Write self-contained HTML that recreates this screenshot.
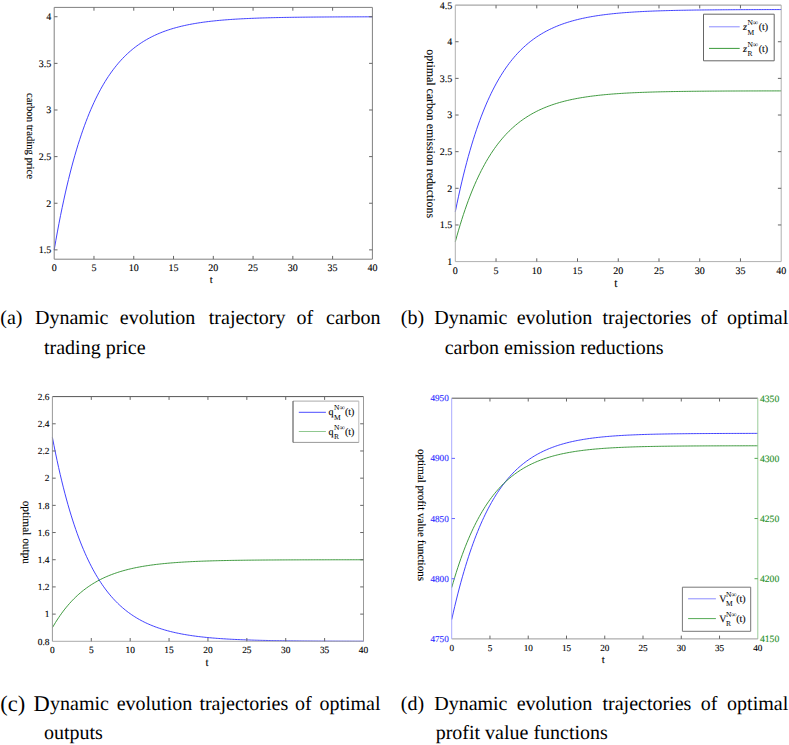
<!DOCTYPE html>
<html><head><meta charset="utf-8"><style>
html,body{margin:0;padding:0;background:#fff;}
svg{display:block;}
text{font-family:"Liberation Serif",serif;text-rendering:geometricPrecision;}
</style></head><body>
<svg width="789" height="745" viewBox="0 0 789 745">
<polyline points="54.20,249.87 55.79,240.73 57.38,231.95 58.97,223.51 60.56,215.40 62.16,207.61 63.75,200.13 65.34,192.94 66.93,186.03 68.52,179.39 70.11,173.01 71.70,166.88 73.29,160.99 74.88,155.34 76.47,149.90 78.06,144.68 79.66,139.66 81.25,134.84 82.84,130.21 84.43,125.76 86.02,121.49 87.61,117.38 89.20,113.43 90.79,109.64 92.38,106.00 93.97,102.50 95.57,99.13 97.16,95.90 98.75,92.80 100.34,89.81 101.93,86.95 103.52,84.20 105.11,81.55 106.70,79.01 108.29,76.57 109.89,74.22 111.48,71.97 113.07,69.80 114.66,67.72 116.25,65.72 117.84,63.80 119.43,61.95 121.02,60.18 122.61,58.47 124.20,56.84 125.80,55.27 127.39,53.75 128.98,52.30 130.57,50.91 132.16,49.57 133.75,48.28 135.34,47.04 136.93,45.85 138.52,44.71 140.11,43.61 141.70,42.56 143.30,41.55 144.89,40.57 146.48,39.64 148.07,38.74 149.66,37.88 151.25,37.05 152.84,36.25 154.43,35.48 156.02,34.75 157.62,34.04 159.21,33.36 160.80,32.71 162.39,32.08 163.98,31.48 165.57,30.90 167.16,30.35 168.75,29.81 170.34,29.30 171.93,28.81 173.53,28.33 175.12,27.88 176.71,27.44 178.30,27.02 179.89,26.62 181.48,26.23 183.07,25.86 184.66,25.50 186.25,25.15 187.84,24.82 189.44,24.51 191.03,24.20 192.62,23.91 194.21,23.63 195.80,23.36 197.39,23.10 198.98,22.85 200.57,22.61 202.16,22.38 203.75,22.15 205.35,21.94 206.94,21.74 208.53,21.54 210.12,21.35 211.71,21.17 213.30,21.00 214.89,20.83 216.48,20.67 218.07,20.51 219.66,20.36 221.25,20.22 222.85,20.09 224.44,19.95 226.03,19.83 227.62,19.71 229.21,19.59 230.80,19.48 232.39,19.37 233.98,19.26 235.57,19.17 237.16,19.07 238.76,18.98 240.35,18.89 241.94,18.80 243.53,18.72 245.12,18.64 246.71,18.57 248.30,18.50 249.89,18.43 251.48,18.36 253.07,18.30 254.67,18.24 256.26,18.18 257.85,18.12 259.44,18.06 261.03,18.01 262.62,17.96 264.21,17.91 265.80,17.87 267.39,17.82 268.99,17.78 270.58,17.74 272.17,17.70 273.76,17.66 275.35,17.62 276.94,17.59 278.53,17.55 280.12,17.52 281.71,17.49 283.30,17.46 284.89,17.43 286.49,17.40 288.08,17.38 289.67,17.35 291.26,17.33 292.85,17.30 294.44,17.28 296.03,17.26 297.62,17.24 299.21,17.22 300.80,17.20 302.40,17.18 303.99,17.16 305.58,17.15 307.17,17.13 308.76,17.11 310.35,17.10 311.94,17.08 313.53,17.07 315.12,17.06 316.71,17.04 318.31,17.03 319.90,17.02 321.49,17.01 323.08,17.00 324.67,16.99 326.26,16.98 327.85,16.97 329.44,16.96 331.03,16.95 332.62,16.94 334.22,16.93 335.81,16.92 337.40,16.91 338.99,16.91 340.58,16.90 342.17,16.89 343.76,16.89 345.35,16.88 346.94,16.87 348.53,16.87 350.13,16.86 351.72,16.86 353.31,16.85 354.90,16.85 356.49,16.84 358.08,16.84 359.67,16.83 361.26,16.83 362.85,16.83 364.44,16.82 366.04,16.82 367.63,16.81 369.22,16.81 370.81,16.81 372.40,16.80" fill="none" stroke="#2d2dff" stroke-width="0.9" stroke-linejoin="round"/>
<line x1="54.20" y1="7.40" x2="372.40" y2="7.40" stroke="#808080" stroke-width="1"/>
<line x1="372.40" y1="7.40" x2="372.40" y2="259.20" stroke="#808080" stroke-width="1"/>
<line x1="54.20" y1="259.20" x2="372.40" y2="259.20" stroke="#808080" stroke-width="1"/>
<line x1="54.20" y1="7.40" x2="54.20" y2="259.20" stroke="#808080" stroke-width="1"/>
<text x="54.20" y="271.00" font-size="10" text-anchor="middle" fill="#000" stroke="#000" stroke-width="0.12" >0</text>
<line x1="93.97" y1="259.20" x2="93.97" y2="255.90" stroke="#666" stroke-width="1"/>
<line x1="93.97" y1="7.40" x2="93.97" y2="10.70" stroke="#666" stroke-width="1"/>
<text x="93.97" y="271.00" font-size="10" text-anchor="middle" fill="#000" stroke="#000" stroke-width="0.12" >5</text>
<line x1="133.75" y1="259.20" x2="133.75" y2="255.90" stroke="#666" stroke-width="1"/>
<line x1="133.75" y1="7.40" x2="133.75" y2="10.70" stroke="#666" stroke-width="1"/>
<text x="133.75" y="271.00" font-size="10" text-anchor="middle" fill="#000" stroke="#000" stroke-width="0.12" >10</text>
<line x1="173.53" y1="259.20" x2="173.53" y2="255.90" stroke="#666" stroke-width="1"/>
<line x1="173.53" y1="7.40" x2="173.53" y2="10.70" stroke="#666" stroke-width="1"/>
<text x="173.53" y="271.00" font-size="10" text-anchor="middle" fill="#000" stroke="#000" stroke-width="0.12" >15</text>
<line x1="213.30" y1="259.20" x2="213.30" y2="255.90" stroke="#666" stroke-width="1"/>
<line x1="213.30" y1="7.40" x2="213.30" y2="10.70" stroke="#666" stroke-width="1"/>
<text x="213.30" y="271.00" font-size="10" text-anchor="middle" fill="#000" stroke="#000" stroke-width="0.12" >20</text>
<line x1="253.07" y1="259.20" x2="253.07" y2="255.90" stroke="#666" stroke-width="1"/>
<line x1="253.07" y1="7.40" x2="253.07" y2="10.70" stroke="#666" stroke-width="1"/>
<text x="253.07" y="271.00" font-size="10" text-anchor="middle" fill="#000" stroke="#000" stroke-width="0.12" >25</text>
<line x1="292.85" y1="259.20" x2="292.85" y2="255.90" stroke="#666" stroke-width="1"/>
<line x1="292.85" y1="7.40" x2="292.85" y2="10.70" stroke="#666" stroke-width="1"/>
<text x="292.85" y="271.00" font-size="10" text-anchor="middle" fill="#000" stroke="#000" stroke-width="0.12" >30</text>
<line x1="332.62" y1="259.20" x2="332.62" y2="255.90" stroke="#666" stroke-width="1"/>
<line x1="332.62" y1="7.40" x2="332.62" y2="10.70" stroke="#666" stroke-width="1"/>
<text x="332.62" y="271.00" font-size="10" text-anchor="middle" fill="#000" stroke="#000" stroke-width="0.12" >35</text>
<text x="372.40" y="271.00" font-size="10" text-anchor="middle" fill="#000" stroke="#000" stroke-width="0.12" >40</text>
<line x1="54.20" y1="249.87" x2="57.50" y2="249.87" stroke="#666" stroke-width="1"/>
<line x1="372.40" y1="249.87" x2="369.10" y2="249.87" stroke="#666" stroke-width="1"/>
<text x="51.30" y="253.27" font-size="10" text-anchor="end" fill="#000" stroke="#000" stroke-width="0.12" >1.5</text>
<line x1="54.20" y1="203.24" x2="57.50" y2="203.24" stroke="#666" stroke-width="1"/>
<line x1="372.40" y1="203.24" x2="369.10" y2="203.24" stroke="#666" stroke-width="1"/>
<text x="51.30" y="206.64" font-size="10" text-anchor="end" fill="#000" stroke="#000" stroke-width="0.12" >2</text>
<line x1="54.20" y1="156.61" x2="57.50" y2="156.61" stroke="#666" stroke-width="1"/>
<line x1="372.40" y1="156.61" x2="369.10" y2="156.61" stroke="#666" stroke-width="1"/>
<text x="51.30" y="160.01" font-size="10" text-anchor="end" fill="#000" stroke="#000" stroke-width="0.12" >2.5</text>
<line x1="54.20" y1="109.99" x2="57.50" y2="109.99" stroke="#666" stroke-width="1"/>
<line x1="372.40" y1="109.99" x2="369.10" y2="109.99" stroke="#666" stroke-width="1"/>
<text x="51.30" y="113.39" font-size="10" text-anchor="end" fill="#000" stroke="#000" stroke-width="0.12" >3</text>
<line x1="54.20" y1="63.36" x2="57.50" y2="63.36" stroke="#666" stroke-width="1"/>
<line x1="372.40" y1="63.36" x2="369.10" y2="63.36" stroke="#666" stroke-width="1"/>
<text x="51.30" y="66.76" font-size="10" text-anchor="end" fill="#000" stroke="#000" stroke-width="0.12" >3.5</text>
<line x1="54.20" y1="16.73" x2="57.50" y2="16.73" stroke="#666" stroke-width="1"/>
<line x1="372.40" y1="16.73" x2="369.10" y2="16.73" stroke="#666" stroke-width="1"/>
<text x="51.30" y="20.13" font-size="10" text-anchor="end" fill="#000" stroke="#000" stroke-width="0.12" >4</text>
<text x="211.20" y="282.60" font-size="10.7" text-anchor="middle" fill="#000" stroke="#000" stroke-width="0.12" >t</text>
<text transform="translate(27.20,92.90) rotate(90)" x="0" y="0" font-size="10.7" fill="#000" stroke="#000" stroke-width="0.12">carbon trading price</text>
<polyline points="455.30,211.77 456.93,203.83 458.56,196.21 460.19,188.89 461.82,181.86 463.45,175.10 465.08,168.61 466.71,162.37 468.34,156.37 469.97,150.62 471.60,145.08 473.22,139.77 474.85,134.66 476.48,129.75 478.11,125.03 479.74,120.50 481.37,116.15 483.00,111.97 484.63,107.95 486.26,104.09 487.89,100.38 489.52,96.82 491.15,93.39 492.78,90.11 494.41,86.94 496.04,83.91 497.67,80.99 499.30,78.19 500.93,75.49 502.56,72.91 504.19,70.42 505.81,68.03 507.44,65.74 509.07,63.53 510.70,61.41 512.33,59.38 513.96,57.42 515.59,55.54 517.22,53.74 518.85,52.00 520.48,50.33 522.11,48.73 523.74,47.19 525.37,45.72 527.00,44.30 528.63,42.93 530.26,41.62 531.89,40.36 533.52,39.15 535.15,37.99 536.77,36.87 538.40,35.80 540.03,34.77 541.66,33.78 543.29,32.82 544.92,31.91 546.55,31.03 548.18,30.19 549.81,29.37 551.44,28.60 553.07,27.85 554.70,27.13 556.33,26.44 557.96,25.77 559.59,25.13 561.22,24.52 562.85,23.93 564.48,23.37 566.11,22.82 567.74,22.30 569.37,21.80 570.99,21.31 572.62,20.85 574.25,20.41 575.88,19.98 577.51,19.57 579.14,19.17 580.77,18.79 582.40,18.43 584.03,18.08 585.66,17.74 587.29,17.42 588.92,17.11 590.55,16.81 592.18,16.52 593.81,16.25 595.44,15.98 597.07,15.73 598.70,15.48 600.33,15.25 601.96,15.02 603.58,14.81 605.21,14.60 606.84,14.40 608.47,14.21 610.10,14.02 611.73,13.84 613.36,13.67 614.99,13.51 616.62,13.35 618.25,13.20 619.88,13.06 621.51,12.92 623.14,12.78 624.77,12.65 626.40,12.53 628.03,12.41 629.66,12.30 631.29,12.19 632.92,12.08 634.55,11.98 636.17,11.88 637.80,11.79 639.43,11.70 641.06,11.61 642.69,11.53 644.32,11.45 645.95,11.37 647.58,11.30 649.21,11.23 650.84,11.16 652.47,11.10 654.10,11.03 655.73,10.97 657.36,10.92 658.99,10.86 660.62,10.81 662.25,10.76 663.88,10.71 665.51,10.66 667.13,10.61 668.76,10.57 670.39,10.53 672.02,10.49 673.65,10.45 675.28,10.41 676.91,10.37 678.54,10.34 680.17,10.31 681.80,10.28 683.43,10.25 685.06,10.22 686.69,10.19 688.32,10.16 689.95,10.13 691.58,10.11 693.21,10.09 694.84,10.06 696.47,10.04 698.10,10.02 699.73,10.00 701.35,9.98 702.98,9.96 704.61,9.94 706.24,9.92 707.87,9.91 709.50,9.89 711.13,9.88 712.76,9.86 714.39,9.85 716.02,9.83 717.65,9.82 719.28,9.81 720.91,9.80 722.54,9.78 724.17,9.77 725.80,9.76 727.43,9.75 729.06,9.74 730.69,9.73 732.32,9.72 733.94,9.71 735.57,9.71 737.20,9.70 738.83,9.69 740.46,9.68 742.09,9.67 743.72,9.67 745.35,9.66 746.98,9.65 748.61,9.65 750.24,9.64 751.87,9.64 753.50,9.63 755.13,9.63 756.76,9.62 758.39,9.62 760.02,9.61 761.65,9.61 763.28,9.60 764.90,9.60 766.53,9.59 768.16,9.59 769.79,9.59 771.42,9.58 773.05,9.58 774.68,9.58 776.31,9.57 777.94,9.57 779.57,9.57 781.20,9.56" fill="none" stroke="#2d2dff" stroke-width="0.9" stroke-linejoin="round"/>
<polyline points="455.30,241.81 456.93,235.89 458.56,230.21 460.19,224.74 461.82,219.49 463.45,214.45 465.08,209.60 466.71,204.94 468.34,200.47 469.97,196.17 471.60,192.04 473.22,188.07 474.85,184.26 476.48,180.60 478.11,177.08 479.74,173.70 481.37,170.45 483.00,167.33 484.63,164.33 486.26,161.45 487.89,158.68 489.52,156.02 491.15,153.46 492.78,151.01 494.41,148.65 496.04,146.38 497.67,144.20 499.30,142.11 500.93,140.10 502.56,138.17 504.19,136.32 505.81,134.53 507.44,132.82 509.07,131.17 510.70,129.59 512.33,128.07 513.96,126.61 515.59,125.21 517.22,123.86 518.85,122.57 520.48,121.32 522.11,120.13 523.74,118.98 525.37,117.88 527.00,116.82 528.63,115.80 530.26,114.82 531.89,113.88 533.52,112.98 535.15,112.11 536.77,111.28 538.40,110.47 540.03,109.70 541.66,108.97 543.29,108.25 544.92,107.57 546.55,106.92 548.18,106.29 549.81,105.68 551.44,105.10 553.07,104.54 554.70,104.00 556.33,103.49 557.96,102.99 559.59,102.51 561.22,102.06 562.85,101.62 564.48,101.20 566.11,100.79 567.74,100.40 569.37,100.02 570.99,99.66 572.62,99.32 574.25,98.99 575.88,98.67 577.51,98.36 579.14,98.07 580.77,97.78 582.40,97.51 584.03,97.25 585.66,97.00 587.29,96.76 588.92,96.52 590.55,96.30 592.18,96.09 593.81,95.88 595.44,95.69 597.07,95.50 598.70,95.31 600.33,95.14 601.96,94.97 603.58,94.81 605.21,94.65 606.84,94.50 608.47,94.36 610.10,94.22 611.73,94.09 613.36,93.96 614.99,93.84 616.62,93.72 618.25,93.61 619.88,93.50 621.51,93.40 623.14,93.30 624.77,93.20 626.40,93.11 628.03,93.02 629.66,92.93 631.29,92.85 632.92,92.77 634.55,92.70 636.17,92.63 637.80,92.56 639.43,92.49 641.06,92.42 642.69,92.36 644.32,92.30 645.95,92.25 647.58,92.19 649.21,92.14 650.84,92.09 652.47,92.04 654.10,91.99 655.73,91.95 657.36,91.90 658.99,91.86 660.62,91.82 662.25,91.78 663.88,91.75 665.51,91.71 667.13,91.68 668.76,91.64 670.39,91.61 672.02,91.58 673.65,91.55 675.28,91.53 676.91,91.50 678.54,91.47 680.17,91.45 681.80,91.43 683.43,91.40 685.06,91.38 686.69,91.36 688.32,91.34 689.95,91.32 691.58,91.30 693.21,91.28 694.84,91.27 696.47,91.25 698.10,91.23 699.73,91.22 701.35,91.20 702.98,91.19 704.61,91.18 706.24,91.16 707.87,91.15 709.50,91.14 711.13,91.13 712.76,91.12 714.39,91.11 716.02,91.10 717.65,91.09 719.28,91.08 720.91,91.07 722.54,91.06 724.17,91.05 725.80,91.04 727.43,91.03 729.06,91.03 730.69,91.02 732.32,91.01 733.94,91.01 735.57,91.00 737.20,90.99 738.83,90.99 740.46,90.98 742.09,90.98 743.72,90.97 745.35,90.97 746.98,90.96 748.61,90.96 750.24,90.95 751.87,90.95 753.50,90.94 755.13,90.94 756.76,90.94 758.39,90.93 760.02,90.93 761.65,90.93 763.28,90.92 764.90,90.92 766.53,90.92 768.16,90.91 769.79,90.91 771.42,90.91 773.05,90.91 774.68,90.90 776.31,90.90 777.94,90.90 779.57,90.90 781.20,90.89" fill="none" stroke="#2a8f2a" stroke-width="0.9" stroke-linejoin="round"/>
<line x1="455.30" y1="5.10" x2="781.20" y2="5.10" stroke="#909090" stroke-width="1"/>
<line x1="781.20" y1="5.10" x2="781.20" y2="261.60" stroke="#b0b0b0" stroke-width="1"/>
<line x1="455.30" y1="261.60" x2="781.20" y2="261.60" stroke="#b0b0b0" stroke-width="1"/>
<line x1="455.30" y1="5.10" x2="455.30" y2="261.60" stroke="#b0b0b0" stroke-width="1"/>
<text x="455.30" y="273.50" font-size="10" text-anchor="middle" fill="#000" stroke="#000" stroke-width="0.12" >0</text>
<line x1="496.04" y1="261.60" x2="496.04" y2="258.30" stroke="#666" stroke-width="1"/>
<line x1="496.04" y1="5.10" x2="496.04" y2="8.40" stroke="#666" stroke-width="1"/>
<text x="496.04" y="273.50" font-size="10" text-anchor="middle" fill="#000" stroke="#000" stroke-width="0.12" >5</text>
<line x1="536.77" y1="261.60" x2="536.77" y2="258.30" stroke="#666" stroke-width="1"/>
<line x1="536.77" y1="5.10" x2="536.77" y2="8.40" stroke="#666" stroke-width="1"/>
<text x="536.77" y="273.50" font-size="10" text-anchor="middle" fill="#000" stroke="#000" stroke-width="0.12" >10</text>
<line x1="577.51" y1="261.60" x2="577.51" y2="258.30" stroke="#666" stroke-width="1"/>
<line x1="577.51" y1="5.10" x2="577.51" y2="8.40" stroke="#666" stroke-width="1"/>
<text x="577.51" y="273.50" font-size="10" text-anchor="middle" fill="#000" stroke="#000" stroke-width="0.12" >15</text>
<line x1="618.25" y1="261.60" x2="618.25" y2="258.30" stroke="#666" stroke-width="1"/>
<line x1="618.25" y1="5.10" x2="618.25" y2="8.40" stroke="#666" stroke-width="1"/>
<text x="618.25" y="273.50" font-size="10" text-anchor="middle" fill="#000" stroke="#000" stroke-width="0.12" >20</text>
<line x1="658.99" y1="261.60" x2="658.99" y2="258.30" stroke="#666" stroke-width="1"/>
<line x1="658.99" y1="5.10" x2="658.99" y2="8.40" stroke="#666" stroke-width="1"/>
<text x="658.99" y="273.50" font-size="10" text-anchor="middle" fill="#000" stroke="#000" stroke-width="0.12" >25</text>
<line x1="699.73" y1="261.60" x2="699.73" y2="258.30" stroke="#666" stroke-width="1"/>
<line x1="699.73" y1="5.10" x2="699.73" y2="8.40" stroke="#666" stroke-width="1"/>
<text x="699.73" y="273.50" font-size="10" text-anchor="middle" fill="#000" stroke="#000" stroke-width="0.12" >30</text>
<line x1="740.46" y1="261.60" x2="740.46" y2="258.30" stroke="#666" stroke-width="1"/>
<line x1="740.46" y1="5.10" x2="740.46" y2="8.40" stroke="#666" stroke-width="1"/>
<text x="740.46" y="273.50" font-size="10" text-anchor="middle" fill="#000" stroke="#000" stroke-width="0.12" >35</text>
<text x="781.20" y="273.50" font-size="10" text-anchor="middle" fill="#000" stroke="#000" stroke-width="0.12" >40</text>
<text x="452.20" y="265.00" font-size="10" text-anchor="end" fill="#000" stroke="#000" stroke-width="0.12" >1</text>
<line x1="455.30" y1="224.96" x2="458.60" y2="224.96" stroke="#666" stroke-width="1"/>
<line x1="781.20" y1="224.96" x2="777.90" y2="224.96" stroke="#666" stroke-width="1"/>
<text x="452.20" y="228.36" font-size="10" text-anchor="end" fill="#000" stroke="#000" stroke-width="0.12" >1.5</text>
<line x1="455.30" y1="188.31" x2="458.60" y2="188.31" stroke="#666" stroke-width="1"/>
<line x1="781.20" y1="188.31" x2="777.90" y2="188.31" stroke="#666" stroke-width="1"/>
<text x="452.20" y="191.71" font-size="10" text-anchor="end" fill="#000" stroke="#000" stroke-width="0.12" >2</text>
<line x1="455.30" y1="151.67" x2="458.60" y2="151.67" stroke="#666" stroke-width="1"/>
<line x1="781.20" y1="151.67" x2="777.90" y2="151.67" stroke="#666" stroke-width="1"/>
<text x="452.20" y="155.07" font-size="10" text-anchor="end" fill="#000" stroke="#000" stroke-width="0.12" >2.5</text>
<line x1="455.30" y1="115.03" x2="458.60" y2="115.03" stroke="#666" stroke-width="1"/>
<line x1="781.20" y1="115.03" x2="777.90" y2="115.03" stroke="#666" stroke-width="1"/>
<text x="452.20" y="118.43" font-size="10" text-anchor="end" fill="#000" stroke="#000" stroke-width="0.12" >3</text>
<line x1="455.30" y1="78.39" x2="458.60" y2="78.39" stroke="#666" stroke-width="1"/>
<line x1="781.20" y1="78.39" x2="777.90" y2="78.39" stroke="#666" stroke-width="1"/>
<text x="452.20" y="81.79" font-size="10" text-anchor="end" fill="#000" stroke="#000" stroke-width="0.12" >3.5</text>
<line x1="455.30" y1="41.74" x2="458.60" y2="41.74" stroke="#666" stroke-width="1"/>
<line x1="781.20" y1="41.74" x2="777.90" y2="41.74" stroke="#666" stroke-width="1"/>
<text x="452.20" y="45.14" font-size="10" text-anchor="end" fill="#000" stroke="#000" stroke-width="0.12" >4</text>
<text x="452.20" y="8.50" font-size="10" text-anchor="end" fill="#000" stroke="#000" stroke-width="0.12" >4.5</text>
<text x="615.80" y="287.20" font-size="11.8" text-anchor="middle" fill="#000" stroke="#000" stroke-width="0.12" >t</text>
<text transform="translate(426.70,49.30) rotate(90)" x="0" y="0" font-size="11.85" fill="#000" stroke="#000" stroke-width="0.12">optimal carbon emission reductions</text>
<rect x="703.50" y="14.20" width="70.70" height="46.60" fill="#fff"/>
<line x1="703.50" y1="14.20" x2="774.20" y2="14.20" stroke="#666" stroke-width="1.0"/>
<line x1="774.20" y1="14.20" x2="774.20" y2="60.80" stroke="#666" stroke-width="1.0"/>
<line x1="703.50" y1="60.80" x2="774.20" y2="60.80" stroke="#666" stroke-width="1.0"/>
<line x1="703.50" y1="14.20" x2="703.50" y2="60.80" stroke="#666" stroke-width="1.0"/>
<line x1="709.00" y1="26.80" x2="739.70" y2="26.80" stroke="#8c8cff" stroke-width="1.0"/>
<text x="742.90" y="29.90" font-size="10" fill="#000" stroke="#000" stroke-width="0.12" font-style="italic">z</text>
<text x="747.40" y="24.90" font-size="7.5" fill="#000">N∞</text>
<text x="747.40" y="34.80" font-size="7.5" fill="#000">M</text>
<text x="758.70" y="29.90" font-size="10" fill="#000" stroke="#000" stroke-width="0.12">(t)</text>
<line x1="709.00" y1="48.40" x2="739.70" y2="48.40" stroke="#3a9a3a" stroke-width="1.0"/>
<text x="742.90" y="51.50" font-size="10" fill="#000" stroke="#000" stroke-width="0.12" font-style="italic">z</text>
<text x="747.40" y="46.50" font-size="7.5" fill="#000">N∞</text>
<text x="747.40" y="56.40" font-size="7.5" fill="#000">R</text>
<text x="758.70" y="51.50" font-size="10" fill="#000" stroke="#000" stroke-width="0.12">(t)</text>
<polyline points="52.40,437.38 53.96,445.38 55.51,453.06 57.07,460.44 58.62,467.53 60.18,474.35 61.73,480.89 63.29,487.18 64.84,493.23 66.40,499.03 67.95,504.61 69.51,509.97 71.07,515.12 72.62,520.07 74.18,524.82 75.73,529.39 77.29,533.78 78.84,537.99 80.40,542.04 81.95,545.94 83.51,549.67 85.07,553.27 86.62,556.72 88.18,560.04 89.73,563.22 91.29,566.28 92.84,569.22 94.40,572.05 95.95,574.77 97.51,577.37 99.06,579.88 100.62,582.29 102.18,584.60 103.73,586.83 105.29,588.96 106.84,591.01 108.40,592.99 109.95,594.88 111.51,596.70 113.06,598.45 114.62,600.13 116.18,601.74 117.73,603.30 119.29,604.79 120.84,606.22 122.40,607.59 123.95,608.91 125.51,610.18 127.06,611.40 128.62,612.58 130.18,613.70 131.73,614.78 133.29,615.82 134.84,616.82 136.40,617.78 137.95,618.71 139.51,619.59 141.06,620.44 142.62,621.26 144.17,622.05 145.73,622.80 147.29,623.53 148.84,624.22 150.40,624.89 151.95,625.54 153.51,626.15 155.06,626.75 156.62,627.32 158.17,627.87 159.73,628.39 161.29,628.90 162.84,629.39 164.40,629.85 165.95,630.30 167.51,630.73 169.06,631.15 170.62,631.55 172.17,631.93 173.73,632.30 175.28,632.65 176.84,632.99 178.40,633.31 179.95,633.63 181.51,633.93 183.06,634.22 184.62,634.49 186.17,634.76 187.73,635.02 189.28,635.26 190.84,635.50 192.40,635.73 193.95,635.95 195.51,636.16 197.06,636.36 198.62,636.55 200.17,636.74 201.73,636.92 203.28,637.09 204.84,637.25 206.39,637.41 207.95,637.57 209.51,637.71 211.06,637.85 212.62,637.99 214.17,638.12 215.73,638.24 217.28,638.36 218.84,638.48 220.39,638.59 221.95,638.69 223.51,638.80 225.06,638.89 226.62,638.99 228.17,639.08 229.73,639.17 231.28,639.25 232.84,639.33 234.39,639.41 235.95,639.48 237.50,639.55 239.06,639.62 240.62,639.69 242.17,639.75 243.73,639.81 245.28,639.87 246.84,639.93 248.39,639.98 249.95,640.03 251.50,640.08 253.06,640.13 254.62,640.18 256.17,640.22 257.73,640.26 259.28,640.30 260.84,640.34 262.39,640.38 263.95,640.42 265.50,640.45 267.06,640.48 268.61,640.52 270.17,640.55 271.73,640.58 273.28,640.60 274.84,640.63 276.39,640.66 277.95,640.68 279.50,640.71 281.06,640.73 282.61,640.75 284.17,640.77 285.72,640.79 287.28,640.81 288.84,640.83 290.39,640.85 291.95,640.87 293.50,640.89 295.06,640.90 296.61,640.92 298.17,640.93 299.72,640.95 301.28,640.96 302.84,640.97 304.39,640.99 305.95,641.00 307.50,641.01 309.06,641.02 310.61,641.03 312.17,641.04 313.72,641.05 315.28,641.06 316.84,641.07 318.39,641.08 319.95,641.09 321.50,641.10 323.06,641.11 324.61,641.11 326.17,641.12 327.72,641.13 329.28,641.14 330.83,641.14 332.39,641.15 333.95,641.15 335.50,641.16 337.06,641.16 338.61,641.17 340.17,641.18 341.72,641.18 343.28,641.18 344.83,641.19 346.39,641.19 347.94,641.20 349.50,641.20 351.06,641.21 352.61,641.21 354.17,641.21 355.72,641.22 357.28,641.22 358.83,641.22 360.39,641.23 361.94,641.23 363.50,641.23" fill="none" stroke="#2d2dff" stroke-width="0.9" stroke-linejoin="round"/>
<polyline points="52.40,627.71 53.96,625.04 55.51,622.48 57.07,620.02 58.62,617.66 60.18,615.38 61.73,613.20 63.29,611.11 64.84,609.09 66.40,607.16 67.95,605.30 69.51,603.51 71.07,601.79 72.62,600.14 74.18,598.56 75.73,597.04 77.29,595.57 78.84,594.17 80.40,592.82 81.95,591.52 83.51,590.28 85.07,589.08 86.62,587.93 88.18,586.82 89.73,585.76 91.29,584.74 92.84,583.76 94.40,582.82 95.95,581.91 97.51,581.04 99.06,580.21 100.62,579.40 102.18,578.63 103.73,577.89 105.29,577.18 106.84,576.50 108.40,575.84 109.95,575.21 111.51,574.60 113.06,574.02 114.62,573.46 116.18,572.92 117.73,572.40 119.29,571.90 120.84,571.43 122.40,570.97 123.95,570.53 125.51,570.11 127.06,569.70 128.62,569.31 130.18,568.93 131.73,568.57 133.29,568.23 134.84,567.89 136.40,567.57 137.95,567.26 139.51,566.97 141.06,566.69 142.62,566.41 144.17,566.15 145.73,565.90 147.29,565.66 148.84,565.43 150.40,565.20 151.95,564.99 153.51,564.78 155.06,564.58 156.62,564.39 158.17,564.21 159.73,564.04 161.29,563.87 162.84,563.70 164.40,563.55 165.95,563.40 167.51,563.26 169.06,563.12 170.62,562.98 172.17,562.86 173.73,562.73 175.28,562.62 176.84,562.50 178.40,562.40 179.95,562.29 181.51,562.19 183.06,562.09 184.62,562.00 186.17,561.91 187.73,561.83 189.28,561.75 190.84,561.67 192.40,561.59 193.95,561.52 195.51,561.45 197.06,561.38 198.62,561.32 200.17,561.25 201.73,561.19 203.28,561.14 204.84,561.08 206.39,561.03 207.95,560.98 209.51,560.93 211.06,560.88 212.62,560.84 214.17,560.79 215.73,560.75 217.28,560.71 218.84,560.67 220.39,560.64 221.95,560.60 223.51,560.57 225.06,560.54 226.62,560.50 228.17,560.47 229.73,560.44 231.28,560.42 232.84,560.39 234.39,560.36 235.95,560.34 237.50,560.32 239.06,560.29 240.62,560.27 242.17,560.25 243.73,560.23 245.28,560.21 246.84,560.19 248.39,560.17 249.95,560.16 251.50,560.14 253.06,560.12 254.62,560.11 256.17,560.09 257.73,560.08 259.28,560.07 260.84,560.05 262.39,560.04 263.95,560.03 265.50,560.02 267.06,560.01 268.61,559.99 270.17,559.98 271.73,559.97 273.28,559.97 274.84,559.96 276.39,559.95 277.95,559.94 279.50,559.93 281.06,559.92 282.61,559.92 284.17,559.91 285.72,559.90 287.28,559.90 288.84,559.89 290.39,559.88 291.95,559.88 293.50,559.87 295.06,559.87 296.61,559.86 298.17,559.86 299.72,559.85 301.28,559.85 302.84,559.84 304.39,559.84 305.95,559.83 307.50,559.83 309.06,559.83 310.61,559.82 312.17,559.82 313.72,559.82 315.28,559.81 316.84,559.81 318.39,559.81 319.95,559.80 321.50,559.80 323.06,559.80 324.61,559.80 326.17,559.79 327.72,559.79 329.28,559.79 330.83,559.79 332.39,559.78 333.95,559.78 335.50,559.78 337.06,559.78 338.61,559.78 340.17,559.77 341.72,559.77 343.28,559.77 344.83,559.77 346.39,559.77 347.94,559.77 349.50,559.77 351.06,559.76 352.61,559.76 354.17,559.76 355.72,559.76 357.28,559.76 358.83,559.76 360.39,559.76 361.94,559.76 363.50,559.76" fill="none" stroke="#2a8f2a" stroke-width="0.9" stroke-linejoin="round"/>
<line x1="52.40" y1="396.60" x2="363.50" y2="396.60" stroke="#555555" stroke-width="1"/>
<line x1="363.50" y1="396.60" x2="363.50" y2="641.30" stroke="#999999" stroke-width="1"/>
<line x1="52.40" y1="641.30" x2="363.50" y2="641.30" stroke="#aaaaaa" stroke-width="1"/>
<line x1="52.40" y1="396.60" x2="52.40" y2="641.30" stroke="#999999" stroke-width="1"/>
<text x="52.40" y="653.00" font-size="9.4" text-anchor="middle" fill="#000" stroke="#000" stroke-width="0.12" >0</text>
<line x1="91.29" y1="641.30" x2="91.29" y2="638.00" stroke="#666" stroke-width="1"/>
<line x1="91.29" y1="396.60" x2="91.29" y2="399.90" stroke="#666" stroke-width="1"/>
<text x="91.29" y="653.00" font-size="9.4" text-anchor="middle" fill="#000" stroke="#000" stroke-width="0.12" >5</text>
<line x1="130.18" y1="641.30" x2="130.18" y2="638.00" stroke="#666" stroke-width="1"/>
<line x1="130.18" y1="396.60" x2="130.18" y2="399.90" stroke="#666" stroke-width="1"/>
<text x="130.18" y="653.00" font-size="9.4" text-anchor="middle" fill="#000" stroke="#000" stroke-width="0.12" >10</text>
<line x1="169.06" y1="641.30" x2="169.06" y2="638.00" stroke="#666" stroke-width="1"/>
<line x1="169.06" y1="396.60" x2="169.06" y2="399.90" stroke="#666" stroke-width="1"/>
<text x="169.06" y="653.00" font-size="9.4" text-anchor="middle" fill="#000" stroke="#000" stroke-width="0.12" >15</text>
<line x1="207.95" y1="641.30" x2="207.95" y2="638.00" stroke="#666" stroke-width="1"/>
<line x1="207.95" y1="396.60" x2="207.95" y2="399.90" stroke="#666" stroke-width="1"/>
<text x="207.95" y="653.00" font-size="9.4" text-anchor="middle" fill="#000" stroke="#000" stroke-width="0.12" >20</text>
<line x1="246.84" y1="641.30" x2="246.84" y2="638.00" stroke="#666" stroke-width="1"/>
<line x1="246.84" y1="396.60" x2="246.84" y2="399.90" stroke="#666" stroke-width="1"/>
<text x="246.84" y="653.00" font-size="9.4" text-anchor="middle" fill="#000" stroke="#000" stroke-width="0.12" >25</text>
<line x1="285.72" y1="641.30" x2="285.72" y2="638.00" stroke="#666" stroke-width="1"/>
<line x1="285.72" y1="396.60" x2="285.72" y2="399.90" stroke="#666" stroke-width="1"/>
<text x="285.72" y="653.00" font-size="9.4" text-anchor="middle" fill="#000" stroke="#000" stroke-width="0.12" >30</text>
<line x1="324.61" y1="641.30" x2="324.61" y2="638.00" stroke="#666" stroke-width="1"/>
<line x1="324.61" y1="396.60" x2="324.61" y2="399.90" stroke="#666" stroke-width="1"/>
<text x="324.61" y="653.00" font-size="9.4" text-anchor="middle" fill="#000" stroke="#000" stroke-width="0.12" >35</text>
<text x="363.50" y="653.00" font-size="9.4" text-anchor="middle" fill="#000" stroke="#000" stroke-width="0.12" >40</text>
<text x="49.50" y="644.50" font-size="9.4" text-anchor="end" fill="#000" stroke="#000" stroke-width="0.12" >0.8</text>
<line x1="52.40" y1="614.11" x2="55.70" y2="614.11" stroke="#666" stroke-width="1"/>
<line x1="363.50" y1="614.11" x2="360.20" y2="614.11" stroke="#666" stroke-width="1"/>
<text x="49.50" y="617.31" font-size="9.4" text-anchor="end" fill="#000" stroke="#000" stroke-width="0.12" >1</text>
<line x1="52.40" y1="586.92" x2="55.70" y2="586.92" stroke="#666" stroke-width="1"/>
<line x1="363.50" y1="586.92" x2="360.20" y2="586.92" stroke="#666" stroke-width="1"/>
<text x="49.50" y="590.12" font-size="9.4" text-anchor="end" fill="#000" stroke="#000" stroke-width="0.12" >1.2</text>
<line x1="52.40" y1="559.73" x2="55.70" y2="559.73" stroke="#666" stroke-width="1"/>
<line x1="363.50" y1="559.73" x2="360.20" y2="559.73" stroke="#666" stroke-width="1"/>
<text x="49.50" y="562.93" font-size="9.4" text-anchor="end" fill="#000" stroke="#000" stroke-width="0.12" >1.4</text>
<line x1="52.40" y1="532.54" x2="55.70" y2="532.54" stroke="#666" stroke-width="1"/>
<line x1="363.50" y1="532.54" x2="360.20" y2="532.54" stroke="#666" stroke-width="1"/>
<text x="49.50" y="535.74" font-size="9.4" text-anchor="end" fill="#000" stroke="#000" stroke-width="0.12" >1.6</text>
<line x1="52.40" y1="505.36" x2="55.70" y2="505.36" stroke="#666" stroke-width="1"/>
<line x1="363.50" y1="505.36" x2="360.20" y2="505.36" stroke="#666" stroke-width="1"/>
<text x="49.50" y="508.56" font-size="9.4" text-anchor="end" fill="#000" stroke="#000" stroke-width="0.12" >1.8</text>
<line x1="52.40" y1="478.17" x2="55.70" y2="478.17" stroke="#666" stroke-width="1"/>
<line x1="363.50" y1="478.17" x2="360.20" y2="478.17" stroke="#666" stroke-width="1"/>
<text x="49.50" y="481.37" font-size="9.4" text-anchor="end" fill="#000" stroke="#000" stroke-width="0.12" >2</text>
<line x1="52.40" y1="450.98" x2="55.70" y2="450.98" stroke="#666" stroke-width="1"/>
<line x1="363.50" y1="450.98" x2="360.20" y2="450.98" stroke="#666" stroke-width="1"/>
<text x="49.50" y="454.18" font-size="9.4" text-anchor="end" fill="#000" stroke="#000" stroke-width="0.12" >2.2</text>
<line x1="52.40" y1="423.79" x2="55.70" y2="423.79" stroke="#666" stroke-width="1"/>
<line x1="363.50" y1="423.79" x2="360.20" y2="423.79" stroke="#666" stroke-width="1"/>
<text x="49.50" y="426.99" font-size="9.4" text-anchor="end" fill="#000" stroke="#000" stroke-width="0.12" >2.4</text>
<text x="49.50" y="399.80" font-size="9.4" text-anchor="end" fill="#000" stroke="#000" stroke-width="0.12" >2.6</text>
<text x="207.10" y="665.60" font-size="11.3" text-anchor="middle" fill="#000" stroke="#000" stroke-width="0.12" >t</text>
<text transform="translate(23.30,500.70) rotate(90)" x="0" y="0" font-size="11.35" fill="#000" stroke="#000" stroke-width="0.12">optimal outpu</text>
<rect x="293.00" y="401.10" width="65.80" height="41.30" fill="#fff"/>
<line x1="293.00" y1="401.10" x2="358.80" y2="401.10" stroke="#aaa" stroke-width="1.0"/>
<line x1="358.80" y1="401.10" x2="358.80" y2="442.40" stroke="#bbb" stroke-width="1.0"/>
<line x1="293.00" y1="442.40" x2="358.80" y2="442.40" stroke="#999" stroke-width="1.0"/>
<line x1="293.00" y1="401.10" x2="293.00" y2="442.40" stroke="#444" stroke-width="1.0"/>
<line x1="298.80" y1="412.30" x2="325.90" y2="412.30" stroke="#4d4dff" stroke-width="1.0"/>
<text x="328.60" y="415.40" font-size="10" fill="#000" stroke="#000" stroke-width="0.12">q</text>
<text x="334.00" y="410.30" font-size="7.5" fill="#000">N∞</text>
<text x="334.00" y="419.80" font-size="7.5" fill="#000">M</text>
<text x="344.90" y="415.40" font-size="10" fill="#000" stroke="#000" stroke-width="0.12">(t)</text>
<line x1="298.80" y1="431.50" x2="325.90" y2="431.50" stroke="#90c890" stroke-width="1.0"/>
<text x="328.60" y="434.60" font-size="10" fill="#000" stroke="#000" stroke-width="0.12">q</text>
<text x="334.00" y="429.50" font-size="7.5" fill="#000">N∞</text>
<text x="334.00" y="439.00" font-size="7.5" fill="#000">R</text>
<text x="344.90" y="434.60" font-size="10" fill="#000" stroke="#000" stroke-width="0.12">(t)</text>
<polyline points="451.70,619.64 453.23,612.87 454.76,606.32 456.29,600.00 457.82,593.89 459.35,587.99 460.88,582.30 462.41,576.80 463.94,571.49 465.47,566.37 467.00,561.43 468.54,556.66 470.07,552.05 471.60,547.61 473.13,543.33 474.66,539.20 476.19,535.22 477.72,531.38 479.25,527.68 480.78,524.11 482.31,520.67 483.84,517.36 485.37,514.16 486.90,511.08 488.43,508.12 489.96,505.26 491.49,502.51 493.02,499.85 494.55,497.30 496.08,494.84 497.62,492.47 499.15,490.19 500.68,487.99 502.21,485.88 503.74,483.85 505.27,481.89 506.80,480.00 508.33,478.19 509.86,476.44 511.39,474.76 512.92,473.14 514.45,471.59 515.98,470.09 517.51,468.65 519.04,467.26 520.57,465.93 522.10,464.65 523.63,463.42 525.16,462.23 526.69,461.09 528.23,459.99 529.76,458.94 531.29,457.93 532.82,456.95 534.35,456.01 535.88,455.11 537.41,454.25 538.94,453.42 540.47,452.62 542.00,451.85 543.53,451.11 545.06,450.40 546.59,449.72 548.12,449.06 549.65,448.43 551.18,447.83 552.71,447.25 554.24,446.69 555.77,446.15 557.30,445.64 558.84,445.14 560.37,444.67 561.90,444.21 563.43,443.77 564.96,443.35 566.49,442.94 568.02,442.56 569.55,442.18 571.08,441.82 572.61,441.48 574.14,441.15 575.67,440.83 577.20,440.53 578.73,440.24 580.26,439.96 581.79,439.69 583.32,439.43 584.85,439.18 586.38,438.94 587.91,438.71 589.44,438.49 590.98,438.28 592.51,438.08 594.04,437.89 595.57,437.70 597.10,437.52 598.63,437.35 600.16,437.19 601.69,437.03 603.22,436.88 604.75,436.73 606.28,436.59 607.81,436.46 609.34,436.33 610.87,436.21 612.40,436.09 613.93,435.98 615.46,435.87 616.99,435.76 618.52,435.66 620.05,435.57 621.59,435.47 623.12,435.39 624.65,435.30 626.18,435.22 627.71,435.14 629.24,435.07 630.77,435.00 632.30,434.93 633.83,434.86 635.36,434.80 636.89,434.74 638.42,434.68 639.95,434.62 641.48,434.57 643.01,434.52 644.54,434.47 646.07,434.42 647.60,434.38 649.13,434.34 650.66,434.29 652.20,434.25 653.73,434.22 655.26,434.18 656.79,434.14 658.32,434.11 659.85,434.08 661.38,434.05 662.91,434.02 664.44,433.99 665.97,433.96 667.50,433.94 669.03,433.91 670.56,433.89 672.09,433.86 673.62,433.84 675.15,433.82 676.68,433.80 678.21,433.78 679.74,433.76 681.27,433.75 682.81,433.73 684.34,433.71 685.87,433.70 687.40,433.68 688.93,433.67 690.46,433.65 691.99,433.64 693.52,433.63 695.05,433.62 696.58,433.60 698.11,433.59 699.64,433.58 701.17,433.57 702.70,433.56 704.23,433.55 705.76,433.54 707.29,433.54 708.82,433.53 710.35,433.52 711.88,433.51 713.42,433.51 714.95,433.50 716.48,433.49 718.01,433.49 719.54,433.48 721.07,433.47 722.60,433.47 724.13,433.46 725.66,433.46 727.19,433.45 728.72,433.45 730.25,433.44 731.78,433.44 733.31,433.44 734.84,433.43 736.37,433.43 737.90,433.42 739.43,433.42 740.96,433.42 742.49,433.41 744.03,433.41 745.56,433.41 747.09,433.40 748.62,433.40 750.15,433.40 751.68,433.40 753.21,433.39 754.74,433.39 756.27,433.39 757.80,433.39" fill="none" stroke="#2d2dff" stroke-width="0.9" stroke-linejoin="round"/>
<polyline points="451.70,587.63 453.23,582.34 454.76,577.23 456.29,572.31 457.82,567.56 459.35,562.99 460.88,558.58 462.41,554.33 463.94,550.23 465.47,546.28 467.00,542.48 468.54,538.81 470.07,535.28 471.60,531.88 473.13,528.60 474.66,525.45 476.19,522.41 477.72,519.48 479.25,516.66 480.78,513.95 482.31,511.33 483.84,508.82 485.37,506.39 486.90,504.06 488.43,501.81 489.96,499.65 491.49,497.57 493.02,495.57 494.55,493.64 496.08,491.79 497.62,490.00 499.15,488.29 500.68,486.63 502.21,485.04 503.74,483.51 505.27,482.04 506.80,480.63 508.33,479.27 509.86,477.96 511.39,476.70 512.92,475.48 514.45,474.32 515.98,473.20 517.51,472.12 519.04,471.09 520.57,470.09 522.10,469.13 523.63,468.21 525.16,467.32 526.69,466.47 528.23,465.65 529.76,464.87 531.29,464.11 532.82,463.38 534.35,462.69 535.88,462.01 537.41,461.37 538.94,460.75 540.47,460.15 542.00,459.58 543.53,459.03 545.06,458.50 546.59,457.99 548.12,457.50 549.65,457.03 551.18,456.58 552.71,456.15 554.24,455.73 555.77,455.34 557.30,454.95 558.84,454.58 560.37,454.23 561.90,453.89 563.43,453.56 564.96,453.25 566.49,452.95 568.02,452.66 569.55,452.38 571.08,452.11 572.61,451.85 574.14,451.61 575.67,451.37 577.20,451.14 578.73,450.93 580.26,450.72 581.79,450.52 583.32,450.32 584.85,450.14 586.38,449.96 587.91,449.79 589.44,449.62 590.98,449.47 592.51,449.32 594.04,449.17 595.57,449.03 597.10,448.90 598.63,448.77 600.16,448.65 601.69,448.53 603.22,448.41 604.75,448.31 606.28,448.20 607.81,448.10 609.34,448.00 610.87,447.91 612.40,447.82 613.93,447.74 615.46,447.66 616.99,447.58 618.52,447.50 620.05,447.43 621.59,447.36 623.12,447.30 624.65,447.23 626.18,447.17 627.71,447.11 629.24,447.06 630.77,447.00 632.30,446.95 633.83,446.90 635.36,446.85 636.89,446.81 638.42,446.76 639.95,446.72 641.48,446.68 643.01,446.64 644.54,446.60 646.07,446.57 647.60,446.53 649.13,446.50 650.66,446.47 652.20,446.44 653.73,446.41 655.26,446.38 656.79,446.36 658.32,446.33 659.85,446.31 661.38,446.28 662.91,446.26 664.44,446.24 665.97,446.22 667.50,446.20 669.03,446.18 670.56,446.16 672.09,446.14 673.62,446.13 675.15,446.11 676.68,446.10 678.21,446.08 679.74,446.07 681.27,446.05 682.81,446.04 684.34,446.03 685.87,446.02 687.40,446.00 688.93,445.99 690.46,445.98 691.99,445.97 693.52,445.96 695.05,445.95 696.58,445.94 698.11,445.94 699.64,445.93 701.17,445.92 702.70,445.91 704.23,445.90 705.76,445.90 707.29,445.89 708.82,445.88 710.35,445.88 711.88,445.87 713.42,445.87 714.95,445.86 716.48,445.86 718.01,445.85 719.54,445.85 721.07,445.84 722.60,445.84 724.13,445.83 725.66,445.83 727.19,445.83 728.72,445.82 730.25,445.82 731.78,445.82 733.31,445.81 734.84,445.81 736.37,445.81 737.90,445.80 739.43,445.80 740.96,445.80 742.49,445.80 744.03,445.79 745.56,445.79 747.09,445.79 748.62,445.79 750.15,445.78 751.68,445.78 753.21,445.78 754.74,445.78 756.27,445.78 757.80,445.78" fill="none" stroke="#2a8f2a" stroke-width="0.9" stroke-linejoin="round"/>
<line x1="451.70" y1="398.20" x2="757.80" y2="398.20" stroke="#555555" stroke-width="1"/>
<line x1="757.80" y1="398.20" x2="757.80" y2="638.90" stroke="#99cc99" stroke-width="1"/>
<line x1="451.70" y1="638.90" x2="757.80" y2="638.90" stroke="#999999" stroke-width="1"/>
<line x1="451.70" y1="398.20" x2="451.70" y2="638.90" stroke="#aaaaff" stroke-width="1"/>
<text x="451.70" y="650.70" font-size="9.2" text-anchor="middle" fill="#000" stroke="#000" stroke-width="0.12" >0</text>
<line x1="489.96" y1="638.90" x2="489.96" y2="635.60" stroke="#666" stroke-width="1"/>
<line x1="489.96" y1="398.20" x2="489.96" y2="401.50" stroke="#666" stroke-width="1"/>
<text x="489.96" y="650.70" font-size="9.2" text-anchor="middle" fill="#000" stroke="#000" stroke-width="0.12" >5</text>
<line x1="528.23" y1="638.90" x2="528.23" y2="635.60" stroke="#666" stroke-width="1"/>
<line x1="528.23" y1="398.20" x2="528.23" y2="401.50" stroke="#666" stroke-width="1"/>
<text x="528.23" y="650.70" font-size="9.2" text-anchor="middle" fill="#000" stroke="#000" stroke-width="0.12" >10</text>
<line x1="566.49" y1="638.90" x2="566.49" y2="635.60" stroke="#666" stroke-width="1"/>
<line x1="566.49" y1="398.20" x2="566.49" y2="401.50" stroke="#666" stroke-width="1"/>
<text x="566.49" y="650.70" font-size="9.2" text-anchor="middle" fill="#000" stroke="#000" stroke-width="0.12" >15</text>
<line x1="604.75" y1="638.90" x2="604.75" y2="635.60" stroke="#666" stroke-width="1"/>
<line x1="604.75" y1="398.20" x2="604.75" y2="401.50" stroke="#666" stroke-width="1"/>
<text x="604.75" y="650.70" font-size="9.2" text-anchor="middle" fill="#000" stroke="#000" stroke-width="0.12" >20</text>
<line x1="643.01" y1="638.90" x2="643.01" y2="635.60" stroke="#666" stroke-width="1"/>
<line x1="643.01" y1="398.20" x2="643.01" y2="401.50" stroke="#666" stroke-width="1"/>
<text x="643.01" y="650.70" font-size="9.2" text-anchor="middle" fill="#000" stroke="#000" stroke-width="0.12" >25</text>
<line x1="681.27" y1="638.90" x2="681.27" y2="635.60" stroke="#666" stroke-width="1"/>
<line x1="681.27" y1="398.20" x2="681.27" y2="401.50" stroke="#666" stroke-width="1"/>
<text x="681.27" y="650.70" font-size="9.2" text-anchor="middle" fill="#000" stroke="#000" stroke-width="0.12" >30</text>
<line x1="719.54" y1="638.90" x2="719.54" y2="635.60" stroke="#666" stroke-width="1"/>
<line x1="719.54" y1="398.20" x2="719.54" y2="401.50" stroke="#666" stroke-width="1"/>
<text x="719.54" y="650.70" font-size="9.2" text-anchor="middle" fill="#000" stroke="#000" stroke-width="0.12" >35</text>
<text x="757.80" y="650.70" font-size="9.2" text-anchor="middle" fill="#000" stroke="#000" stroke-width="0.12" >40</text>
<text x="448.80" y="642.00" font-size="9.2" text-anchor="end" fill="#2b2bff" stroke="#2b2bff" stroke-width="0.12" >4750</text>
<line x1="451.70" y1="578.73" x2="455.00" y2="578.73" stroke="#6666ff" stroke-width="1"/>
<text x="448.80" y="581.83" font-size="9.2" text-anchor="end" fill="#2b2bff" stroke="#2b2bff" stroke-width="0.12" >4800</text>
<line x1="451.70" y1="518.55" x2="455.00" y2="518.55" stroke="#6666ff" stroke-width="1"/>
<text x="448.80" y="521.65" font-size="9.2" text-anchor="end" fill="#2b2bff" stroke="#2b2bff" stroke-width="0.12" >4850</text>
<line x1="451.70" y1="458.38" x2="455.00" y2="458.38" stroke="#6666ff" stroke-width="1"/>
<text x="448.80" y="461.48" font-size="9.2" text-anchor="end" fill="#2b2bff" stroke="#2b2bff" stroke-width="0.12" >4900</text>
<text x="448.80" y="401.30" font-size="9.2" text-anchor="end" fill="#2b2bff" stroke="#2b2bff" stroke-width="0.12" >4950</text>
<text x="759.90" y="642.30" font-size="9.7" text-anchor="start" fill="#1f8f1f" stroke="#1f8f1f" stroke-width="0.12" >4150</text>
<line x1="757.80" y1="578.73" x2="754.50" y2="578.73" stroke="#55aa55" stroke-width="1"/>
<text x="759.90" y="582.12" font-size="9.7" text-anchor="start" fill="#1f8f1f" stroke="#1f8f1f" stroke-width="0.12" >4200</text>
<line x1="757.80" y1="518.55" x2="754.50" y2="518.55" stroke="#55aa55" stroke-width="1"/>
<text x="759.90" y="521.95" font-size="9.7" text-anchor="start" fill="#1f8f1f" stroke="#1f8f1f" stroke-width="0.12" >4250</text>
<line x1="757.80" y1="458.38" x2="754.50" y2="458.38" stroke="#55aa55" stroke-width="1"/>
<text x="759.90" y="461.77" font-size="9.7" text-anchor="start" fill="#1f8f1f" stroke="#1f8f1f" stroke-width="0.12" >4300</text>
<text x="759.90" y="401.60" font-size="9.7" text-anchor="start" fill="#1f8f1f" stroke="#1f8f1f" stroke-width="0.12" >4350</text>
<text x="603.30" y="662.60" font-size="11.0" text-anchor="middle" fill="#000" stroke="#000" stroke-width="0.12" >t</text>
<text transform="translate(418.20,448.90) rotate(90)" x="0" y="0" font-size="11.1" fill="#000" stroke="#000" stroke-width="0.12">optimal profit value functions</text>
<rect x="682.40" y="587.20" width="68.30" height="44.10" fill="#fff"/>
<line x1="682.40" y1="587.20" x2="750.70" y2="587.20" stroke="#777" stroke-width="1.0"/>
<line x1="750.70" y1="587.20" x2="750.70" y2="631.30" stroke="#777" stroke-width="1.0"/>
<line x1="682.40" y1="631.30" x2="750.70" y2="631.30" stroke="#777" stroke-width="1.0"/>
<line x1="682.40" y1="587.20" x2="682.40" y2="631.30" stroke="#777" stroke-width="1.0"/>
<line x1="688.10" y1="598.80" x2="715.90" y2="598.80" stroke="#8c8cff" stroke-width="1.0"/>
<text x="719.20" y="601.80" font-size="10" fill="#000" stroke="#000" stroke-width="0.12">V</text>
<text x="725.90" y="597.00" font-size="7.5" fill="#000">N∞</text>
<text x="725.90" y="606.40" font-size="7.5" fill="#000">M</text>
<text x="736.20" y="601.80" font-size="10" fill="#000" stroke="#000" stroke-width="0.12">(t)</text>
<line x1="688.10" y1="618.60" x2="715.90" y2="618.60" stroke="#55aa55" stroke-width="1.0"/>
<text x="719.20" y="621.60" font-size="10" fill="#000" stroke="#000" stroke-width="0.12">V</text>
<text x="725.90" y="616.80" font-size="7.5" fill="#000">N∞</text>
<text x="725.90" y="626.20" font-size="7.5" fill="#000">R</text>
<text x="736.20" y="621.60" font-size="10" fill="#000" stroke="#000" stroke-width="0.12">(t)</text>
<text x="0.30" y="323.90" font-size="20" text-anchor="start" fill="#000" >(a)</text>
<text x="35.00" y="323.90" font-size="20" text-anchor="start" fill="#000" >Dynamic</text>
<text x="119.80" y="323.90" font-size="20" text-anchor="start" fill="#000" >evolution</text>
<text x="208.80" y="323.90" font-size="20" text-anchor="start" fill="#000" >trajectory</text>
<text x="296.60" y="323.90" font-size="20" text-anchor="start" fill="#000" >of</text>
<text x="326.00" y="323.90" font-size="20" text-anchor="start" fill="#000" >carbon</text>
<text x="44.00" y="353.60" font-size="20" text-anchor="start" fill="#000" >trading price</text>
<text x="400.80" y="323.90" font-size="20" text-anchor="start" fill="#000" >(b)</text>
<text x="434.20" y="323.90" font-size="20" text-anchor="start" fill="#000" >Dynamic</text>
<text x="516.70" y="323.90" font-size="20" text-anchor="start" fill="#000" >evolution</text>
<text x="602.50" y="323.90" font-size="20" text-anchor="start" fill="#000" >trajectories</text>
<text x="700.70" y="323.90" font-size="20" text-anchor="start" fill="#000" >of</text>
<text x="727.10" y="323.90" font-size="20" text-anchor="start" fill="#000" >optimal</text>
<text x="444.70" y="353.60" font-size="20" text-anchor="start" fill="#000" >carbon emission reductions</text>
<text x="0.30" y="710.50" font-size="22.5" text-anchor="start" fill="#000" >(c)</text>
<text x="33.40" y="710.50" font-size="22.5" text-anchor="start" fill="#000" >D</text>
<text x="50.00" y="710.40" font-size="20" text-anchor="start" fill="#000" >ynamic</text>
<text x="116.70" y="710.40" font-size="20" text-anchor="start" fill="#000" >evolution</text>
<text x="199.40" y="710.40" font-size="20" text-anchor="start" fill="#000" >trajectories</text>
<text x="295.00" y="710.40" font-size="20" text-anchor="start" fill="#000" >of</text>
<text x="319.40" y="710.40" font-size="20" text-anchor="start" fill="#000" >optimal</text>
<text x="44.00" y="738.50" font-size="20" text-anchor="start" fill="#000" >outputs</text>
<text x="400.80" y="709.50" font-size="20" text-anchor="start" fill="#000" >(d)</text>
<text x="434.20" y="709.50" font-size="20" text-anchor="start" fill="#000" >Dynamic</text>
<text x="516.70" y="709.50" font-size="20" text-anchor="start" fill="#000" >evolution</text>
<text x="602.50" y="709.50" font-size="20" text-anchor="start" fill="#000" >trajectories</text>
<text x="700.70" y="709.50" font-size="20" text-anchor="start" fill="#000" >of</text>
<text x="727.10" y="709.50" font-size="20" text-anchor="start" fill="#000" >optimal</text>
<text x="435.70" y="738.50" font-size="20" text-anchor="start" fill="#000" >profit value functions</text>
</svg>
</body></html>
